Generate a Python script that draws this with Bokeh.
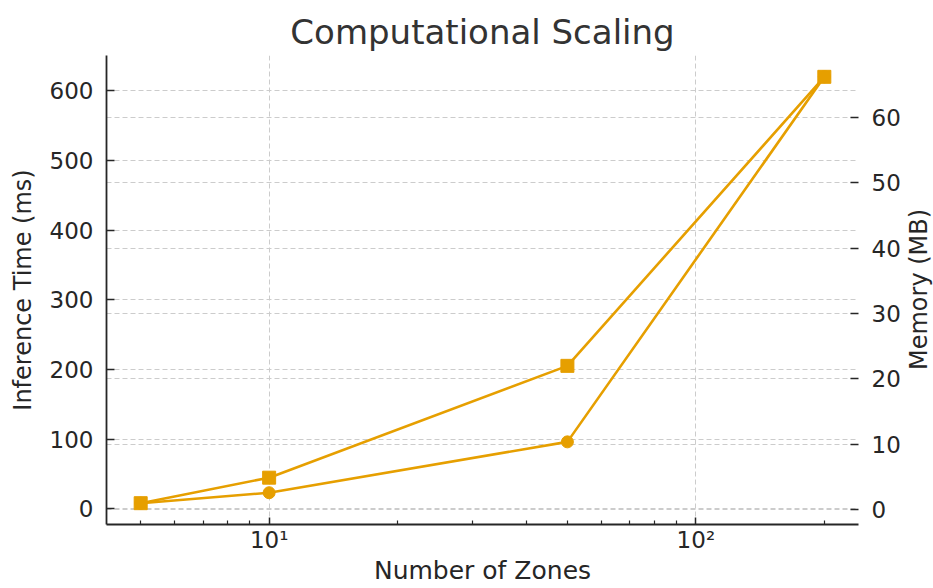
import math
from bokeh.plotting import figure
from bokeh.layouts import row
from bokeh.models import Range1d, LinearAxis, FixedTicker, SingleIntervalTicker, Grid, Div
from bokeh.embed import file_html
from bokeh.resources import INLINE

# ---- data ----
zones = [5, 10, 50, 200]
inference_ms = [8, 23, 96, 620]
memory_mb = [1.0, 4.9, 22.0, 66.2]

x_major_ticks = [10, 100]
x_major_labels = ["10¹", "10²"]
x_minor_ticks = [5, 6, 7, 8, 9, 20, 30, 40, 50, 60, 70, 80, 90, 200]
left_tick_step = 100
right_tick_step = 10

title_text = "Computational Scaling"
x_label = "Number of Zones"
left_label = "Inference Time (ms)"
right_label = "Memory (MB)"

# ---- style ----
ORANGE = "#E69F00"
TXT = "#262626"
GRID = "#cccccc"
FONT = "DejaVu Sans"
W, H = 933, 588
LABEL_W = 28                      # strip holding the right axis title
FIG_W = W - LABEL_W
FRAME_L, FRAME_R, FRAME_T, FRAME_B = 106, 858, 55, 524


def padded(lo, hi, frac=0.05):
    span = hi - lo
    return lo - frac * span, hi + frac * span


lx0, lx1 = padded(math.log10(min(zones)), math.log10(max(zones)))
y0, y1 = padded(min(inference_ms), max(inference_ms))
m0, m1 = padded(min(memory_mb), max(memory_mb))

fig = figure(
    width=FIG_W, height=H,
    x_axis_type="log",
    x_range=Range1d(10 ** lx0, 10 ** lx1),
    y_range=Range1d(y0, y1),
    output_backend="svg", toolbar_location=None,
    min_border_left=FRAME_L, min_border_right=FIG_W - FRAME_R,
    min_border_top=FRAME_T, min_border_bottom=H - FRAME_B,
)
fig.outline_line_color = None
fig.background_fill_color = "white"
fig.border_fill_color = "white"

fig.title.text = title_text
fig.title.align = "center"
fig.title.text_font = FONT
fig.title.text_font_size = "34px"
fig.title.text_font_style = "normal"
fig.title.text_color = "#333333"
fig.title.standoff = 8

fig.extra_y_ranges = {"mem": Range1d(m0, m1)}

# x axis
xa = fig.xaxis[0]
xa.ticker = FixedTicker(ticks=x_major_ticks, minor_ticks=x_minor_ticks)
xa.major_label_overrides = dict(zip(x_major_ticks, x_major_labels))
xa.axis_label = x_label

# left axis
ya = fig.yaxis[0]
ya.ticker = SingleIntervalTicker(interval=left_tick_step)
ya.axis_label = left_label

# right axis
ra = LinearAxis(y_range_name="mem",
                ticker=SingleIntervalTicker(interval=right_tick_step))
fig.add_layout(ra, "right")

for ax in (xa, ya, ra):
    ax.axis_line_color = TXT
    ax.axis_line_width = 1.8
    ax.major_tick_line_color = TXT
    ax.major_tick_line_width = 1.5
    ax.major_tick_in = 8
    ax.major_tick_out = 0
    ax.minor_tick_line_color = None
    ax.major_label_text_font = FONT
    ax.major_label_text_font_size = "23px"
    ax.major_label_text_color = TXT
    ax.major_label_standoff = 9
    ax.axis_label_text_font = FONT
    ax.axis_label_text_font_size = "24px"
    ax.axis_label_text_font_style = "normal"
    ax.axis_label_text_color = TXT
    ax.axis_label_standoff = 10

ra.axis_line_color = None
xa.major_tick_in = 7
xa.minor_tick_line_color = TXT
xa.minor_tick_line_width = 1.2
xa.minor_tick_in = 4
xa.minor_tick_out = 0
xa.major_label_standoff = 2
xa.axis_label_standoff = 0
xa.axis_label_text_font_size = "25px"

# grids
for g in (fig.xgrid[0], fig.ygrid[0]):
    g.grid_line_color = GRID
    g.grid_line_dash = "5 3"
    g.grid_line_width = 1

rgrid = Grid(dimension=1, ticker=ra.ticker, y_range_name="mem",
             grid_line_color=GRID, grid_line_dash="5 3", grid_line_width=1)
fig.add_layout(rgrid)

# series
fig.line(zones, inference_ms, color=ORANGE, line_width=2.6)
fig.scatter(zones, inference_ms, marker="circle", size=12, color=ORANGE)
fig.line(zones, memory_mb, color=ORANGE, line_width=2.6, y_range_name="mem")
fig.scatter(zones, memory_mb, marker="square", size=13, color=ORANGE, y_range_name="mem")

# right axis title, reading bottom-to-top, centred on the plot frame
label_html = (
    f'<div style="margin-top:{FRAME_T}px; height:{FRAME_B - FRAME_T}px; '
    f'width:{LABEL_W}px; line-height:{LABEL_W}px; writing-mode:vertical-rl; '
    f'transform:rotate(180deg); text-align:center; white-space:nowrap; '
    f"font-family:'{FONT}'; font-size:24px; color:{TXT};\">{right_label}</div>"
)
right_title = Div(text=label_html, width=LABEL_W, height=H, margin=0)

p = row(fig, right_title, spacing=0)

open("out.html", "w").write(file_html(p, INLINE))
